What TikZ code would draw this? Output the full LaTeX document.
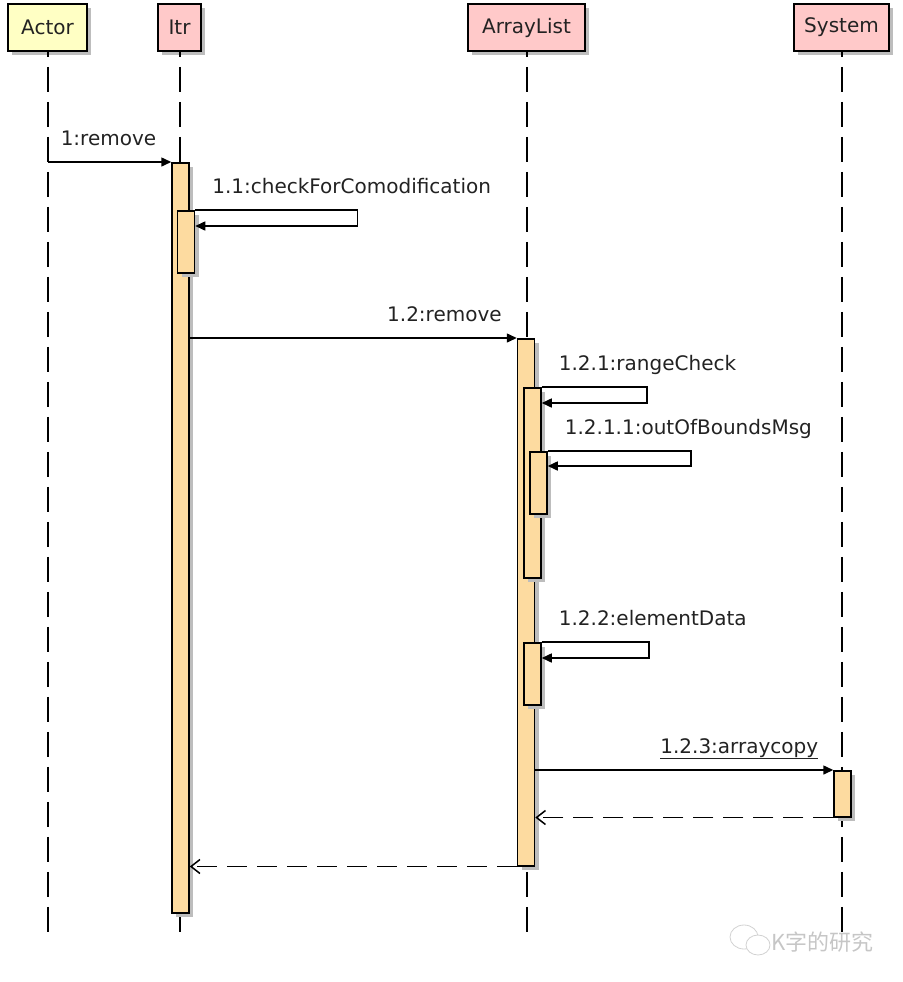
\documentclass[tikz,border=0pt]{standalone}
\usepackage{fontspec}
\setmainfont{DejaVu Sans}
\newfontfamily\cjk{Noto Sans CJK SC}
\usepackage{xcolor}
\usetikzlibrary{shadows,arrows.meta}

\definecolor{headPink}{HTML}{FFC9C9}
\definecolor{headYellow}{HTML}{FFFFC4}
\definecolor{barOrange}{HTML}{FDDBA0}
\definecolor{shadowGrey}{HTML}{BDBDBD}
\definecolor{inkDark}{HTML}{222222}

\begin{document}
\begin{tikzpicture}[>={Triangle[length=10pt,width=9pt]}, x=1pt, y=-1pt,
        font=\fontsize{20}{24}\selectfont, text=inkDark]
        \useasboundingbox (0,0) rectangle (902,982);
        \tikzstyle{head} = [draw, line width=1.8pt, minimum height=47pt,
            inner xsep=0pt, drop shadow={shadow xshift=4pt, shadow yshift=-4pt,
            opacity=1, fill=shadowGrey}]
        \tikzstyle{bar} = [draw, line width=1.5pt, fill=barOrange, anchor=north,
            minimum width=17pt, inner sep=0pt, drop shadow={shadow xshift=4pt,
            shadow yshift=-4pt, opacity=1, fill=shadowGrey}]
        \tikzstyle{lifeline} = [line width=2pt, dash pattern=on 25pt off 10pt,
            dash phase=20pt];
        \tikzstyle{call} = [line width=1.5pt, ->];
        \tikzstyle{reply} = [line width=1.5pt, dash pattern=on 20pt off 10pt,
            -{Straight Barb[length=9pt,width=14pt,line width=1.5pt]}];
        \tikzstyle{callLabel} = [pos=1, anchor=base east, xshift=-11pt, yshift=17pt];
        \tikzstyle{selfLabel} = [pos=0, anchor=base west, xshift=13pt, yshift=17pt];

        % heads
        \node[head, fill=headYellow, minimum width=79pt] (nodeActor) at (47.5,27.5) {Actor};
        \node[head, fill=headPink, minimum width=43pt] (nodeItr) at (179.5,27.5) {Itr};
        \node[head, fill=headPink, minimum width=117pt] (nodeList) at (526.5,27.5) {ArrayList};
        \node[head, fill=headPink, minimum width=95pt] (nodeSys) at (841.5,27.5) {System};

        \coordinate (endActor) at (47.5,935);
        \coordinate (endItr) at (179.5,935);
        \coordinate (endList) at (526.5,935);
        \coordinate (endSys) at (841.5,935);

        \draw[lifeline] (nodeActor.south) -- (endActor);
        \draw[lifeline] (nodeItr.south) -- (endItr);
        \draw[lifeline] (nodeList.south) -- (endList);
        \draw[lifeline] (nodeSys.south) -- (endSys);

        % activations
        \node[bar, minimum height=750pt] (barItr) at (180.5,162) {};
        \node[bar, minimum height=62pt] (barCheck) at (186,210) {};
        \node[bar, minimum height=527pt] (barList) at (526,338) {};
        \node[bar, minimum height=190pt] (barRange) at (532.5,387) {};
        \node[bar, minimum height=62pt] (barBounds) at (538.5,451) {};
        \node[bar, minimum height=62pt] (barElem) at (532.5,642) {};
        \node[bar, minimum height=46pt] (barSys) at (842.5,770) {};

        % messages
        \draw[call] (nodeActor |- barItr.north)
            -- node[callLabel]{1:remove} (barItr.north west);
        \draw[call] (barCheck.north east)
            -- node[selfLabel]{1.1:checkForComodification} ++(162,0)
            |- ([yshift=-16pt]barCheck.north east);
        \draw[call] (barItr.east |- barList.north)
            -- node[callLabel]{1.2:remove} (barList.north west);
        \draw[call] (barRange.north east)
            -- node[selfLabel]{1.2.1:rangeCheck} ++(105,0)
            |- ([yshift=-16pt]barRange.north east);
        \draw[call] (barBounds.north east)
            -- node[selfLabel]{1.2.1.1:outOfBoundsMsg} ++(143,0)
            |- ([yshift=-15pt]barBounds.north east);
        \draw[call] (barElem.north east)
            -- node[selfLabel]{1.2.2:elementData} ++(107,0)
            |- ([yshift=-16pt]barElem.north east);
        \draw[call] (barList.east |- barSys.north)
            -- node[callLabel]{\underline{1.2.3:arraycopy}} (barSys.north west);
        \draw[reply] (barSys.south west) -- (barList.east |- barSys.south);
        \draw[reply] (barList.south west) -- (barItr.east |- barList.south);

        % watermark
        \draw[gray!35, fill=white, line width=0.8pt] (744,937) ellipse [x radius=14pt, y radius=12pt];
        \draw[gray!35, fill=white, line width=0.8pt] (758,945) ellipse [x radius=12pt, y radius=10pt];
        \node[text=gray!45, anchor=west, font=\fontsize{22}{26}\selectfont] (markText)
            at (768,942) {\cjk K字的研究};
    \end{tikzpicture}
\end{document}
